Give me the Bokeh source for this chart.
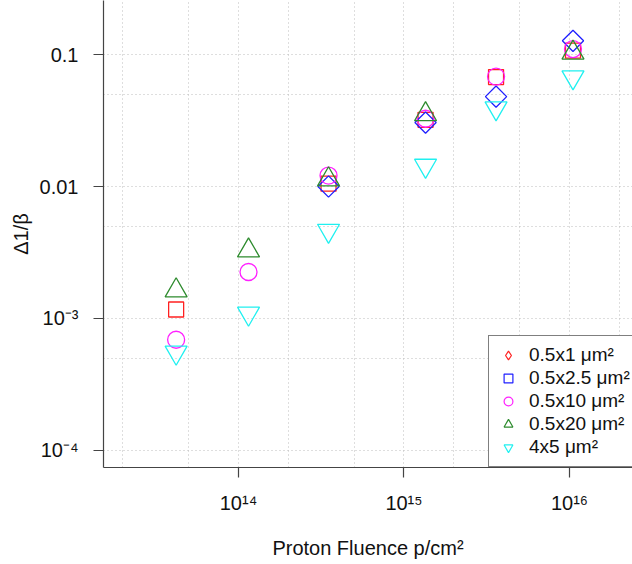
import math
from bokeh.plotting import figure
from bokeh.models import FixedTicker, Legend, LegendItem, ColumnDataSource
from bokeh.embed import file_html
from bokeh.resources import INLINE

nan = float("nan")

# ---- data ----
fluence = [4.2e13, 1.15e14, 3.5e14, 1.35e15, 3.6e15, 1.05e16]
s_05x1 = [1.17e-3, nan, 1.05e-2, 3.2e-2, 6.75e-2, 0.107]
s_05x2_5 = [nan, nan, 1.0e-2, 3.05e-2, 4.8e-2, 0.127]
s_05x10 = [6.9e-4, 2.25e-3, 1.21e-2, 3.26e-2, 6.8e-2, 0.110]
s_05x20 = [1.63e-3, 3.27e-3, 1.13e-2, 3.52e-2, nan, 0.103]
s_4x5 = [5.52e-4, 1.09e-3, 4.63e-3, 1.44e-2, 3.92e-2, 0.0673]

series_labels = ["0.5x1 μm²", "0.5x2.5 μm²", "0.5x10 μm²", "0.5x20 μm²", "4x5 μm²"]

x_ticks = [1e14, 1e15, 1e16]
x_tick_labels = ["10¹⁴", "10¹⁵", "10¹⁶"]
y_ticks = [1e-4, 1e-3, 1e-2, 1e-1]
y_tick_labels = ["10⁻⁴", "10⁻³", "0.01", "0.1"]
x_grid = [2e13, 5e13, 1e14, 2e14, 5e14, 1e15, 2e15, 5e15, 1e16, 2e16]
y_grid = [5e-5, 1e-4, 5e-4, 1e-3, 5e-3, 1e-2, 5e-2, 1e-1]

FONT = "Liberation Sans"
AXIS_COL = "#444444"

p = figure(width=632, height=564,
           x_axis_type="log", y_axis_type="log",
           x_range=(1.529e13, 2.403e16), y_range=(7.43e-5, 0.2566),
           output_backend="svg", toolbar_location=None,
           min_border_left=103, min_border_bottom=97,
           min_border_top=0, min_border_right=0,
           outline_line_color=None,
           x_axis_label="Proton Fluence p/cm²", y_axis_label="Δ1/β")

p.background_fill_color = "white"
p.border_fill_color = "white"

# grids
p.xgrid.ticker = FixedTicker(ticks=x_grid)
p.ygrid.ticker = FixedTicker(ticks=y_grid)
for g in (p.xgrid[0], p.ygrid[0]):
    g.grid_line_color = "#bdbdbd"
    g.grid_line_dash = "1 3"
    g.grid_line_width = 1

# axes
p.xaxis.ticker = FixedTicker(ticks=x_ticks)
p.yaxis.ticker = FixedTicker(ticks=y_ticks)
p.xaxis.major_label_overrides = {t: l for t, l in zip(x_ticks, x_tick_labels)}
p.yaxis.major_label_overrides = {t: l for t, l in zip(y_ticks, y_tick_labels)}
for ax in (p.xaxis[0], p.yaxis[0]):
    ax.axis_line_color = AXIS_COL
    ax.axis_line_width = 1.2
    ax.major_tick_line_color = AXIS_COL
    ax.major_tick_line_width = 1.2
    ax.major_tick_out = 10
    ax.major_tick_in = 0
    ax.minor_tick_line_color = None
    ax.minor_tick_out = 0
    ax.major_label_text_font = FONT
    ax.major_label_text_font_size = "20px"
    ax.major_label_text_color = "#111111"
    ax.axis_label_text_font = FONT
    ax.axis_label_text_font_size = "20px"
    ax.axis_label_text_font_style = "normal"
    ax.axis_label_text_color = "#111111"
p.yaxis.major_label_standoff = 15
p.yaxis.axis_label_standoff = 5
p.xaxis.major_label_standoff = 14
p.xaxis.axis_label_standoff = 20

# data markers (drawn in series order)
src = ColumnDataSource(dict(x=fluence, a=s_05x1, b=s_05x2_5, c=s_05x10, d=s_05x20, e=s_4x5))
LW = 1.3
p.scatter("x", "a", source=src, marker="square", size=15, line_color="#ff2020",
          fill_color=None, line_width=LW)
p.scatter("x", "b", source=src, marker="square", size=15, angle=math.pi / 4,
          line_color="#2020ff", fill_color=None, line_width=LW)
p.scatter("x", "c", source=src, marker="circle", size=17, line_color="#ff20ff",
          fill_color=None, line_width=LW)
p.scatter("x", "d", source=src, marker="triangle", size=22, line_color="#2e8b2e",
          fill_color=None, line_width=LW)
p.scatter("x", "e", source=src, marker="inverted_triangle", size=22, line_color="#20f0f0",
          fill_color=None, line_width=LW)

# legend-only glyphs (the original legend symbols differ for the first two series);
# each holds a single undefined point so nothing is drawn in the plot area
leg_specs = [("diamond", "#ff2020"), ("square", "#2020ff"), ("circle", "#ff20ff"),
             ("triangle", "#2e8b2e"), ("inverted_triangle", "#20f0f0")]
items = []
for (mk, col), lab in zip(leg_specs, series_labels):
    r = p.scatter(x=[nan], y=[nan], marker=mk, line_color=col, fill_color=None,
                  line_width=1.2)
    items.append(LegendItem(label=lab, renderers=[r]))

legend = Legend(items=items, location=(385, 0),
                glyph_width=22, glyph_height=22, label_height=22, spacing=1,
                padding=8, label_standoff=10, label_width=170,
                label_text_font=FONT, label_text_font_size="19px",
                label_text_color="#111111",
                border_line_color="black", border_line_width=1,
                background_fill_color="white", background_fill_alpha=1.0,
                margin=0)
p.add_layout(legend, "center")

open("out.html", "w").write(file_html(p, INLINE))
